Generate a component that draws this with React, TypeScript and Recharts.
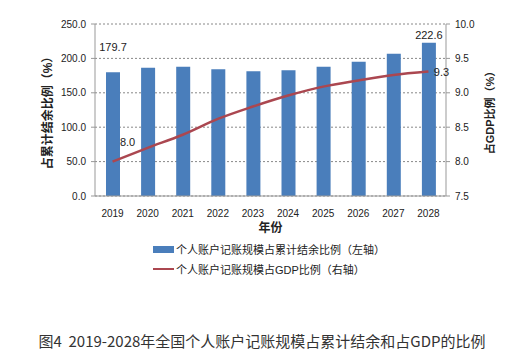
import { ComposedChart, Bar, Line, XAxis, YAxis, CartesianGrid, Legend, LabelList } from "recharts"

const years = ["2019", "2020", "2021", "2022", "2023", "2024", "2025", "2026", "2027", "2028"]
const balanceRatio = [179.7, 186.3, 187.7, 184.4, 181.4, 182.9, 187.7, 195.0, 206.7, 222.6]
const gdpRatio = [8.0, 8.2, 8.39, 8.62, 8.8, 8.96, 9.09, 9.18, 9.26, 9.31]
const leftTicks = [0, 50, 100, 150, 200, 250]
const rightTicks = [7.5, 8.0, 8.5, 9.0, 9.5, 10.0]

const barName = "个人账户记账规模占累计结余比例（左轴）"
const lineName = "个人账户记账规模占GDP比例（右轴）"

const FONT = "'Liberation Sans', 'Noto Sans CJK SC', sans-serif"
const BLUE = "#4a7ebb"
const RED = "#ab4750"

const data = years.map((y, i) => ({ year: y, balance: balanceRatio[i], gdp: gdpRatio[i] }))
const last = years.length - 1

function BarEndLabel(props: any) {
  const { x, y, width, value, index } = props
  if (index !== 0 && index !== last) return null
  const dy = index === 0 ? -21 : -4
  return (
    <text x={x + width / 2} y={y + dy} textAnchor="middle" fontSize={11} fill="#222" fontFamily={FONT}>
      {Number(value).toFixed(1)}
    </text>
  )
}

function LineEndLabel(props: any) {
  const { x, y, value, index } = props
  if (index !== 0 && index !== last) return null
  const dx = index === 0 ? 15 : 13
  const dy = index === 0 ? -16 : 5
  return (
    <text x={x + dx} y={y + dy} textAnchor="middle" fontSize={11} fill="#222" fontFamily={FONT}>
      {Number(value).toFixed(1)}
    </text>
  )
}

function LegendBox(props: any) {
  // bar entry first, like the original
  const items = [...(props.payload || [])].sort((a: any, b: any) => (a.type === "line" ? 1 : 0) - (b.type === "line" ? 1 : 0))
  return (
    <div style={{ fontFamily: FONT, fontSize: 11, color: "#222" }}>
      {items.map((it: any) => (
        <div key={it.value} style={{ display: "flex", alignItems: "center", height: 20 }}>
          {it.type === "line" ? (
            <span style={{ display: "inline-block", width: 21, height: 2, background: RED, marginRight: 2 }} />
          ) : (
            <span style={{ display: "inline-block", width: 21, height: 7, background: BLUE, marginRight: 2 }} />
          )}
          <span>{it.value}</span>
        </div>
      ))}
    </div>
  )
}

export default function App() {
  return (
    <div style={{ position: "absolute", left: 0, top: 0, width: 524, height: 360, background: "#fff" }}>
      <ComposedChart
        width={524}
        height={290}
        data={data}
        margin={{ top: 24, right: 0, bottom: 54, left: 0 }}
        barCategoryGap={0}
      >
        <CartesianGrid yAxisId="left" vertical={false} stroke="#888" strokeDasharray="2 2" />
        <XAxis
          dataKey="year"
          height={40}
          tickLine={false}
          axisLine={{ stroke: "#999" }}
          tick={{ fontSize: 10, fill: "#222", fontFamily: FONT }}
          tickMargin={8}
          label={{ value: "年份", position: "insideBottom", offset: 4, style: { fontSize: 12, fontWeight: "bold", fill: "#222", fontFamily: FONT } }}
        />
        <YAxis
          yAxisId="left"
          width={95}
          domain={[0, 250]}
          ticks={leftTicks}
          tickFormatter={(v: number) => v.toFixed(1)}
          tickSize={4}
          tickMargin={5}
          tickLine={{ stroke: "#999" }}
          axisLine={{ stroke: "#999" }}
          tick={{ fontSize: 10, fill: "#222", fontFamily: FONT }}
          label={{ value: "占累计结余比例（%）", angle: -90, position: "insideLeft", offset: 48, style: { textAnchor: "middle", fontSize: 12, fontWeight: "bold", fill: "#222", fontFamily: FONT } }}
        />
        <YAxis
          yAxisId="right"
          orientation="right"
          width={78}
          domain={[7.5, 10]}
          ticks={rightTicks}
          tickFormatter={(v: number) => v.toFixed(1)}
          tickSize={4}
          tickMargin={5}
          tickLine={{ stroke: "#999" }}
          axisLine={{ stroke: "#999" }}
          tick={{ fontSize: 10, fill: "#222", fontFamily: FONT }}
          label={{ value: "占GDP比例（%）", angle: -90, position: "insideRight", offset: 34, style: { textAnchor: "middle", fontSize: 11, fontWeight: "bold", fill: "#222", fontFamily: FONT } }}
        />
        <Legend
          layout="vertical"
          align="center"
          verticalAlign="middle"
          wrapperStyle={{ top: 239, left: 153, width: 260 }}
          content={<LegendBox />}
        />
        <Bar yAxisId="left" dataKey="balance" name={barName} fill={BLUE} barSize={14} isAnimationActive={false} legendType="rect">
          <LabelList dataKey="balance" content={<BarEndLabel />} />
        </Bar>
        <Line
          yAxisId="right"
          type="monotone"
          dataKey="gdp"
          name={lineName}
          stroke={RED}
          strokeWidth={2.5}
          dot={false}
          isAnimationActive={false}
          legendType="line"
        >
          <LabelList dataKey="gdp" content={<LineEndLabel />} />
        </Line>
      </ComposedChart>
      <div
        style={{
          position: "absolute",
          left: 0,
          width: 524,
          top: 330,
          textAlign: "center",
          fontFamily: "'Noto Sans CJK SC', sans-serif",
          fontSize: 15,
          color: "#333",
          whiteSpace: "pre",
        }}
      >
        {"图4  2019-2028年全国个人账户记账规模占累计结余和占GDP的比例"}
      </div>
    </div>
  )
}
